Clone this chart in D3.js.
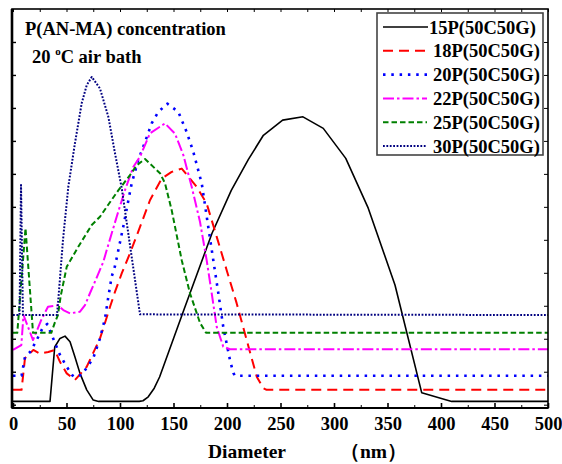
<!DOCTYPE html>
<html>
<head>
<meta charset="utf-8">
<script src="https://cdn.jsdelivr.net/npm/d3@7"></script>
<style>
  body { margin: 0; background: #fff; }
  svg text { font-family: "Liberation Serif", "Times New Roman", serif; font-weight: bold; }
</style>
</head>
<body>
<div id="container"></div>
<script>
// size distribution, diameter (nm) vs. relative intensity
var p15x = [0, 34.6, 39, 43.9, 48.6, 53.3, 57.9, 62.6, 68.9, 75, 80, 118, 121.5, 126.4, 132, 137, 160, 186, 204, 220, 234, 252, 271, 290, 311, 332, 357, 382, 410, 500],
    p15y = [0.1, 0.1, 1.75, 2.01, 2.08, 1.91, 1.45, 0.95, 0.45, 0.14, 0.1, 0.1, 0.12, 0.24, 0.5, 0.84, 2.9, 5.2, 6.5, 7.44, 8.17, 8.63, 8.73, 8.38, 7.47, 5.96, 3.63, 0.36, 0.1, 0.1];

var p18x = [0, 8, 11.2, 19, 25, 33, 39, 43.9, 50.2, 57.9, 68.9, 81.3, 84.4, 90.7, 95.3, 101.6, 109.3, 118.7, 128, 139, 148.3, 157.7, 171.7, 181, 190.4, 199.7, 209, 218.4, 227.8, 233.9, 237, 500],
    p18y = [0.45, 0.45, 1.41, 1.66, 1.55, 1.6, 1.66, 1.3, 0.95, 0.75, 1.15, 2.01, 2.32, 2.97, 3.42, 3.98, 4.59, 5.39, 6.2, 6.86, 7.06, 7.16, 6.61, 6.1, 5.09, 4.08, 3.08, 1.96, 0.85, 0.5, 0.45, 0.45];

var p20x = [0, 8, 11.2, 16, 22, 28, 32, 37, 43.9, 50.2, 56.4, 64.2, 75, 81.3, 86, 89.1, 92.2, 95.3, 103, 110.9, 117.1, 123.4, 129.6, 135.8, 144.2, 154.5, 162.3, 168.5, 176.4, 182.5, 187.2, 191.9, 196.5, 202.8, 205.9, 207.5, 500],
    p20y = [0.88, 0.88, 1.45, 1.6, 1.95, 2.35, 2.45, 2.05, 1.51, 1.15, 0.85, 0.9, 1.41, 2.01, 2.62, 3.27, 3.88, 4.2, 5.39, 6.71, 7.42, 7.97, 8.53, 8.88, 9.13, 8.88, 8.27, 7.67, 6.71, 5.39, 4.38, 3.38, 2.36, 1.35, 0.96, 0.88, 0.88];

var p22x = [0, 7.8, 9.8, 18.7, 26.4, 32.7, 42, 47, 53.3, 62.6, 67.3, 71.9, 76.6, 84.4, 87.6, 96.9, 104.7, 112.4, 118.7, 128, 142, 151.4, 159.2, 167, 174.8, 181, 185.7, 190.4, 196.5, 202.8, 500],
    p22y = [1.66, 1.81, 2.72, 1.96, 2.57, 2.97, 3.02, 2.87, 2.77, 2.82, 3.02, 3.38, 3.73, 4.33, 4.69, 5.7, 6.51, 7.21, 7.52, 8.23, 8.53, 8.22, 7.57, 6.61, 5.54, 4.38, 3.38, 2.36, 1.76, 1.68, 1.68];

var p25x = [0, 4, 11.7, 18.7, 35.8, 39, 42, 44.6, 50.2, 61, 73.6, 81.3, 87.6, 98.4, 109.3, 115.6, 123.4, 137.4, 142, 148.3, 157.7, 165.4, 174.8, 180.4, 500],
    p25y = [2.18, 2.18, 5.35, 2.18, 2.18, 2.48, 2.72, 3.3, 4.18, 4.79, 5.45, 5.7, 6.0, 6.5, 6.96, 7.26, 7.45, 7.02, 6.72, 5.9, 4.38, 3.38, 2.48, 2.18, 2.18];

var p30x = [0, 6.1, 7.5, 9.3, 41.1, 42.3, 46.7, 51.7, 57.9, 64.2, 68.9, 73.6, 81.3, 89.1, 95.3, 101.6, 118.7, 500],
    p30y = [2.72, 2.72, 6.66, 2.72, 2.72, 3.17, 4.99, 6.61, 7.93, 9.14, 9.69, 9.94, 9.59, 8.73, 7.63, 6.57, 2.74, 2.72];

var seriesNames = ['15P(50C50G)', '18P(50C50G)', '20P(50C50G)', '22P(50C50G)', '25P(50C50G)', '30P(50C50G)'];
var xTicks = [0, 50, 100, 150, 200, 250, 300, 350, 400, 450, 500];

var styles = [
    { color: '#000000', width: 1.6, dash: null },
    { color: '#ff0000', width: 2, dash: '10,6' },
    { color: '#0000ff', width: 2.6, dash: '2.5,5.8' },
    { color: '#ff00ff', width: 2, dash: '11,3,2.5,3' },
    { color: '#008000', width: 2, dash: '5.5,3' },
    { color: '#000080', width: 2, dash: '1.8,1.6' }
];

var series = [
    { x: p15x, y: p15y }, { x: p18x, y: p18y }, { x: p20x, y: p20y },
    { x: p22x, y: p22y }, { x: p25x, y: p25y }, { x: p30x, y: p30y }
];

var svgWidth = 562, svgHeight = 464;
var plotLeft = 12, plotRight = 548, plotTop = 9, plotBottom = 408;

var svg = d3.select('#container')
    .append('svg')
    .attr('width', svgWidth)
    .attr('height', svgHeight);

var scaleX = d3.scaleLinear()
    .domain([0, 500])
    .range([13, 548]);

var scaleY = d3.scaleLinear()
    .domain([-0.1, 12])
    .range([plotBottom, plotTop]);

var line = d3.line()
    .x(function(d) { return scaleX(d[0]); })
    .y(function(d) { return scaleY(d[1]); });

// curves
series.forEach(function(s, i) {
    var pts = s.x.map(function(v, j) { return [v, s.y[j]]; });
    svg.append('path')
        .datum(pts)
        .attr('d', line)
        .attr('fill', 'none')
        .attr('stroke', styles[i].color)
        .attr('stroke-width', styles[i].width)
        .attr('stroke-dasharray', styles[i].dash)
        .attr('stroke-linejoin', 'round');
});

// axes, ticks pointing inward
var minor = d3.range(25, 500, 50);
svg.append('g')
    .attr('transform', 'translate(0,' + plotBottom + ')')
    .call(d3.axisBottom(scaleX).tickValues(xTicks).tickSizeInner(-5).tickSizeOuter(0).tickPadding(9))
    .call(function(g) {
        g.select('.domain').remove();
        g.selectAll('.tick line').attr('stroke-width', 1.6);
        g.selectAll('text').attr('font-size', 18.5).attr('fill', '#000')
            .style('font-family', '"Liberation Serif", serif').style('font-weight', 'bold');
    });
svg.append('g')
    .attr('transform', 'translate(0,' + plotBottom + ')')
    .call(d3.axisBottom(scaleX).tickValues(minor).tickSizeInner(-3).tickSizeOuter(0).tickFormat(''))
    .call(function(g) { g.select('.domain').remove(); });
svg.append('g')
    .attr('transform', 'translate(0,' + plotTop + ')')
    .call(d3.axisTop(scaleX).tickValues(d3.range(0, 501, 25)).tickSizeInner(-3).tickSizeOuter(0).tickFormat(''))
    .call(function(g) { g.select('.domain').remove(); });

var yTicks = d3.range(0, 12);
svg.append('g')
    .attr('transform', 'translate(' + plotLeft + ',0)')
    .call(d3.axisLeft(scaleY).tickValues(yTicks).tickSizeInner(-4).tickSizeOuter(0).tickFormat(''))
    .call(function(g) { g.select('.domain').remove(); g.selectAll('.tick line').attr('stroke-width', 1.4); });
svg.append('g')
    .attr('transform', 'translate(' + plotRight + ',0)')
    .call(d3.axisRight(scaleY).tickValues(yTicks).tickSizeInner(-4).tickSizeOuter(0).tickFormat(''))
    .call(function(g) { g.select('.domain').remove(); });

// frame
svg.append('rect')
    .attr('x', plotLeft).attr('y', plotTop)
    .attr('width', plotRight - plotLeft).attr('height', plotBottom - plotTop)
    .attr('fill', 'none').attr('stroke', '#000').attr('stroke-width', 1.6);
svg.append('line')
    .attr('x1', plotLeft).attr('x2', plotLeft).attr('y1', plotTop).attr('y2', plotBottom)
    .attr('stroke', '#000').attr('stroke-width', 2.6);
svg.append('line')
    .attr('x1', plotLeft).attr('x2', plotRight).attr('y1', plotBottom).attr('y2', plotBottom)
    .attr('stroke', '#000').attr('stroke-width', 2.2);

// annotations
svg.append('text')
    .attr('x', 25).attr('y', 35)
    .attr('font-size', 18.5)
    .text('P(AN-MA) concentration');
var t2 = svg.append('text')
    .attr('x', 32).attr('y', 63)
    .attr('font-size', 18.5);
t2.append('tspan').text('20 ');
t2.append('tspan').attr('font-size', 11).attr('dy', -8).text('o');
t2.append('tspan').attr('dy', 8).text('C air bath');

svg.append('text')
    .attr('x', 208).attr('y', 458)
    .attr('font-size', 19.5)
    .text('Diameter');
svg.append('text')
    .attr('x', 340).attr('y', 458)
    .attr('font-size', 19.5)
    .text('（nm）');

// legend
var legend = svg.append('g');
legend.append('rect')
    .attr('x', 377).attr('y', 13)
    .attr('width', 166).attr('height', 142)
    .attr('fill', '#fff').attr('stroke', '#444').attr('stroke-width', 1.6);

seriesNames.forEach(function(name, i) {
    var yy = 27 + i * 23.8;
    legend.append('line')
        .attr('x1', 383).attr('x2', i === 0 ? 428 : 427)
        .attr('y1', yy).attr('y2', yy)
        .attr('stroke', styles[i].color)
        .attr('stroke-width', styles[i].width)
        .attr('stroke-dasharray', styles[i].dash);
    legend.append('text')
        .attr('x', i === 0 ? 429 : 433).attr('y', yy + 6.5)
        .attr('font-size', 18.5)
        .text(name);
});
</script>
</body>
</html>
